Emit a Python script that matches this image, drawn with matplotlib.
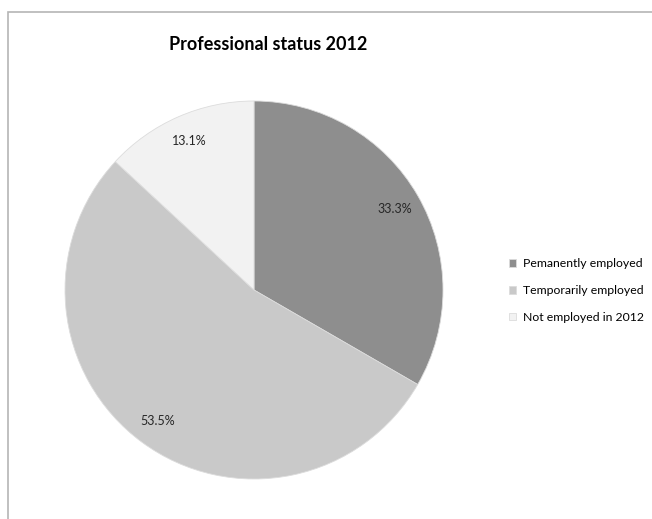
import matplotlib.pyplot as plt
from matplotlib.patches import Rectangle

# status shares (percent)
categories = ['Pemanently employed', 'Temporarily employed', 'Not employed in 2012']
shares = [33.3, 53.5, 13.1]
colors = ['#8e8e8e', '#c9c9c9', '#f2f2f2']

plt.rcParams['font.family'] = ['Lato', 'DejaVu Sans']

W, H = 652, 519
fig = plt.figure(figsize=(W / 100, H / 100), dpi=100)

# light frame around the chart area
fig.patches.append(Rectangle((7.5 / W, -0.1), 1.2, 1.1 - 11.5 / H,
                             transform=fig.transFigure, fill=False,
                             edgecolor='#b5b5b5', linewidth=1.2))

# pie centred at (254, 290) px with radius 189 px
cx, cy, r = 254, 290, 189
ax = fig.add_axes([(cx - r) / W, (H - cy - r) / H, 2 * r / W, 2 * r / H])

total = sum(shares)
wedges, texts, autotexts = ax.pie(
    shares, colors=colors, startangle=90, counterclock=False,
    autopct=lambda p: f'{p * total / 100:.1f}%', pctdistance=0.86,
    wedgeprops=dict(edgecolor='#dcdcdc', linewidth=0.6),
    textprops=dict(fontsize=9, color='#262626'))
ax.set_xlim(-1, 1)
ax.set_ylim(-1, 1)

fig.text(268 / W, 1 - 45 / H, 'Professional status 2012', ha='center',
         va='center', fontsize=13, fontweight='bold')

fig.legend(wedges, categories, loc='upper left',
           bbox_to_anchor=(503 / W, 1 - 252 / H), frameon=False,
           fontsize=8.8, handlelength=0.6, handleheight=0.6,
           handletextpad=0.5, labelspacing=1.3, borderpad=0)

fig.savefig('out.png', dpi=100)
